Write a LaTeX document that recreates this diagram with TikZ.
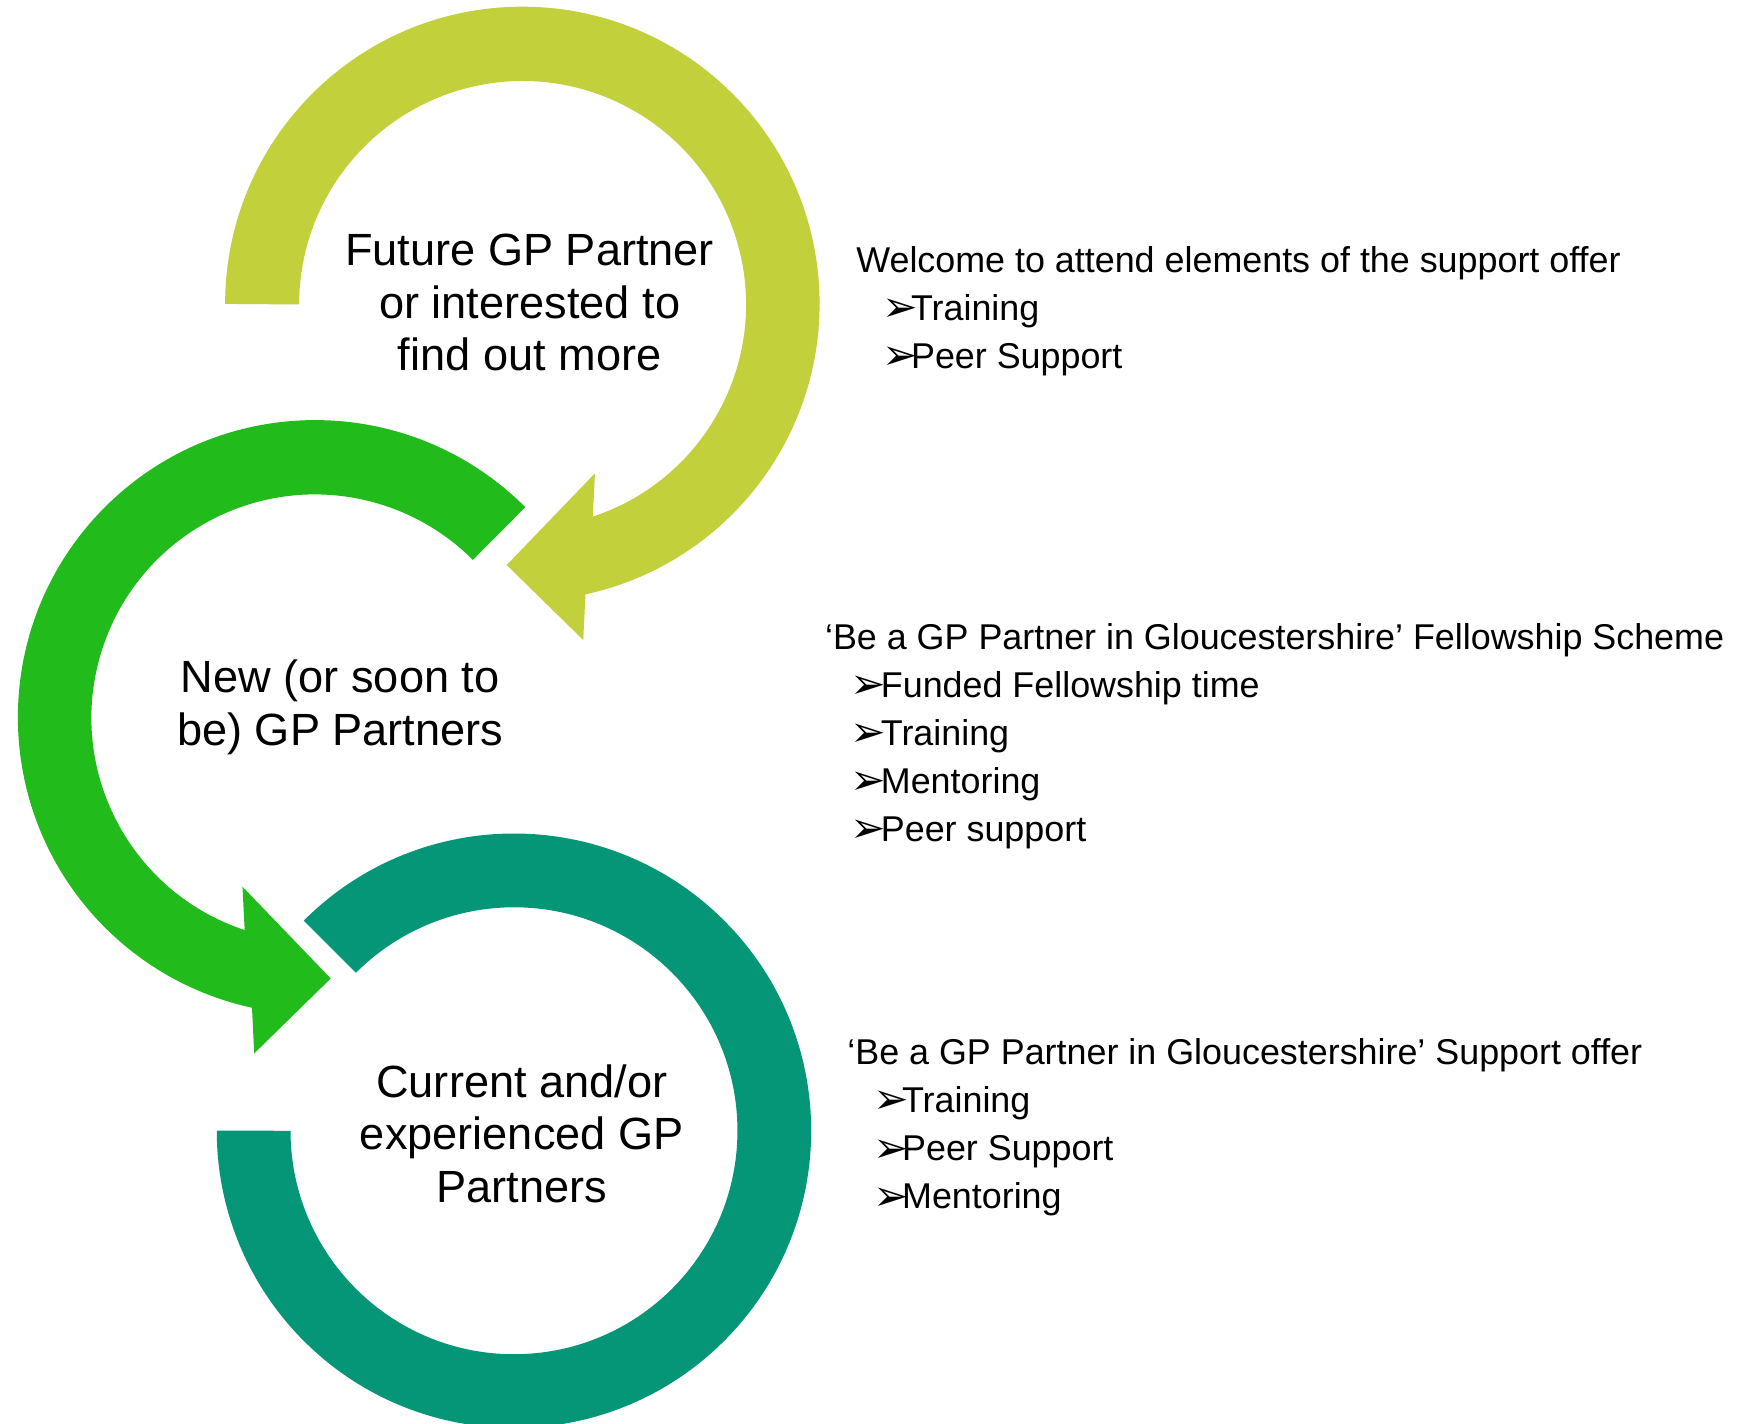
\documentclass[tikz,border=0pt]{standalone}
\usepackage{fontspec}
\setmainfont{Liberation Sans}
\newfontfamily\bulfont{DejaVu Sans}
\definecolor{ringA}{HTML}{C2D03B}
\definecolor{ringB}{HTML}{21BB1B}
\definecolor{ringC}{HTML}{049677}
\begin{document}
\begin{tikzpicture}[x=0.5pt,y=0.5pt,
  lbl/.style={font=\fontsize{20.2}{24}\selectfont, anchor=base, inner sep=0pt},
  rt/.style={font=\fontsize{16.05}{21.5}\selectfont, anchor=base west, inner sep=0pt},
  bul/.style={font=\bulfont\fontsize{19}{20}\selectfont, anchor=base west, inner sep=0pt}]
\useasboundingbox (0,0) rectangle (1568,1274);
\fill[white] (0,0) rectangle (1568,1274);
\clip (0,0) rectangle (1568,1274);
% centres
\coordinate (T) at (467.5,1002);
\coordinate (M) at (282,632);
\coordinate (B) at (460,262);
% top ring (future)
\fill[ringA] (201.5,1002) arc[start angle=180, end angle=-77.74, radius=133pt]
  -- (522,701.2) -- (453.5,768.3) -- (532.5,850.4) -- (530.5,811.6)
  arc[start angle=-71.7, end angle=180, radius=100pt] -- cycle;
% middle ring (new)
\fill[ringB] (470.1,820.1) arc[start angle=45, end angle=257.74, radius=133pt]
  -- (227.5,331.2) -- (296,398.3) -- (217,480.4) -- (219,441.6)
  arc[start angle=251.7, end angle=45, radius=100pt] -- cycle;
% bottom ring (current)
\fill[ringC] (271.9,450.1) arc[start angle=135, end angle=-180, radius=133pt]
  -- (260,262) arc[start angle=-180, end angle=135, radius=100pt] -- cycle;
% ring labels
\node[lbl] (t1) at (474,1036) {Future GP Partner};
\node[lbl] (t2) at (474,989) {or interested to};
\node[lbl] (t3) at (474,942) {find out more};
\node[lbl] (m1) at (304.5,654) {New (or soon to};
\node[lbl] (m2) at (304.5,607) {be) GP Partners};
\node[lbl] (b1) at (467,292) {Current and/or};
\node[lbl] (b2) at (467,245) {experienced GP};
\node[lbl] (b3) at (467,198) {Partners};
% block 1
\node[rt] (h1) at (766,1030) {Welcome to attend elements of the support offer};
\node[bul] (h1ab) at (789,986) {➢};
\node[rt] (h1a) at (815,987) {Training};
\node[bul] (h1bb) at (789,943) {➢};
\node[rt] (h1b) at (815,944) {Peer Support};
% block 2
\node[rt] (h2) at (738,693) {‘Be a GP Partner in Gloucestershire’ Fellowship Scheme};
\node[bul] (h2ab) at (761,649) {➢};
\node[rt] (h2a) at (788,650) {Funded Fellowship time};
\node[bul] (h2bb) at (761,606) {➢};
\node[rt] (h2b) at (788,607) {Training};
\node[bul] (h2cb) at (761,563) {➢};
\node[rt] (h2c) at (788,564) {Mentoring};
\node[bul] (h2db) at (761,520) {➢};
\node[rt] (h2d) at (788,521) {Peer support};
% block 3
\node[rt] (h3) at (758,321) {‘Be a GP Partner in Gloucestershire’ Support offer};
\node[bul] (h3ab) at (781,277) {➢};
\node[rt] (h3a) at (807,278) {Training};
\node[bul] (h3bb) at (781,234) {➢};
\node[rt] (h3b) at (807,235) {Peer Support};
\node[bul] (h3cb) at (781,191) {➢};
\node[rt] (h3c) at (807,192) {Mentoring};
\end{tikzpicture}
\end{document}
